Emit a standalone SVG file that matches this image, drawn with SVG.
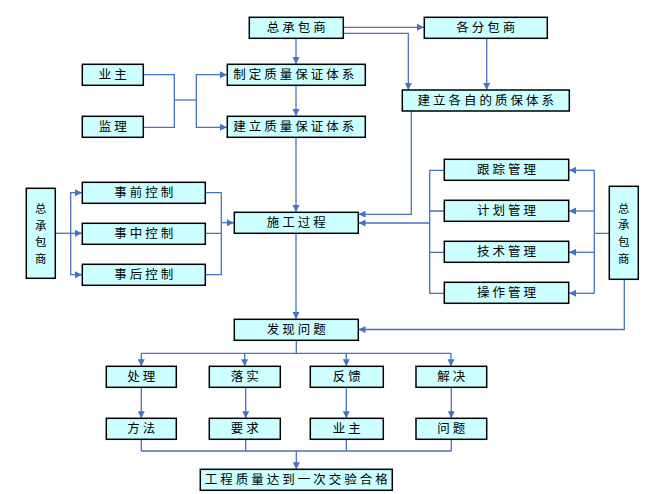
<svg xmlns="http://www.w3.org/2000/svg" width="646" height="494" viewBox="0 0 646 494">
<defs>
<marker id="ah" markerUnits="userSpaceOnUse" markerWidth="8" markerHeight="8" viewBox="0 0 8 8" refX="7" refY="4" orient="auto">
<path d="M0,0.5 L7,4 L0,7.5 Z" fill="#4472C4"/>
</marker>
<style>
.b{fill:#CCFFFF;stroke:#000;stroke-width:1.5}
.t{font-family:"Noto Sans CJK SC","Noto Sans",sans-serif;font-size:12.5px;fill:#000;text-anchor:middle;letter-spacing:3px}
.v{font-family:"Noto Sans CJK SC","Noto Sans",sans-serif;font-size:11.4px;fill:#000;text-anchor:middle}
.c{fill:none;stroke:#4472C4;stroke-width:1.3}
.a{marker-end:url(#ah)}
</style>
</defs>
<rect width="646" height="494" fill="#fff"/>
<g id="connectors">
<path class="c a" d="M296,38 V64"/>
<path class="c a" d="M296,85 V116"/>
<path class="c a" d="M296,137 V212"/>
<path class="c a" d="M343,27.3 H424"/>
<path class="c a" d="M343,33.3 H408.3 V90"/>
<path class="c a" d="M486.7,38 V90"/>
<path class="c a" d="M411.3,111 V214.3 H358.5"/>
<path class="c" d="M143,74.7 H174.3 V127.3 H143"/>
<path class="c" d="M174.3,100 H196.3"/>
<path class="c a" d="M196.3,100 V74.7 H227"/>
<path class="c a" d="M196.3,100 V127.3 H227"/>
<path class="c" d="M55.3,233.3 H70.7"/>
<path class="c a" d="M70.7,233.3 V192.7 H82"/>
<path class="c a" d="M70.7,233.3 H82"/>
<path class="c a" d="M70.7,233.3 V274.7 H82"/>
<path class="c" d="M205.3,192.7 H221.3 V274.7 H205.3 M205.3,233.3 H221.3"/>
<path class="c a" d="M221.3,222.7 H234"/>
<path class="c a" d="M296,233.3 V319"/>
<path class="c" d="M444.3,170.3 H429.7 V293.3 H444.3 M429.7,211 H444.3 M429.7,252.3 H444.3"/>
<path class="c a" d="M429.7,223 H358.5"/>
<path class="c" d="M609.3,233.3 H594.3 M594.3,170.3 V293.3"/>
<path class="c a" d="M594.3,170.3 H569"/>
<path class="c a" d="M594.3,211 H569"/>
<path class="c a" d="M594.3,252.3 H569"/>
<path class="c a" d="M594.3,293.3 H569"/>
<path class="c a" d="M624.3,279.3 V329.5 H358.5"/>
<path class="c" d="M296.3,340.3 V353.3 M141.3,353.3 H451"/>
<path class="c a" d="M141.3,353.3 V366.3"/>
<path class="c a" d="M244.7,353.3 V366.3"/>
<path class="c a" d="M346.3,353.3 V366.3"/>
<path class="c a" d="M451,353.3 V366.3"/>
<path class="c a" d="M141.3,387.3 V418.3"/>
<path class="c a" d="M245.7,387.3 V418.3"/>
<path class="c a" d="M346.3,387.3 V418.3"/>
<path class="c a" d="M451.3,387.3 V418.3"/>
<path class="c" d="M141.3,439.3 V451 M245.7,439.3 V451 M346.3,439.3 V451 M451.3,439.3 V451 M141.3,451 H451.3"/>
<path class="c a" d="M296.3,451 V469.3"/>
</g>
<g id="n_zcbs"><rect class="b" x="249.3" y="17.3" width="94" height="21"/><text class="t" x="297.8" y="32.3">总承包商</text></g>
<g id="n_gfbs"><rect class="b" x="424.3" y="17.3" width="123" height="21"/><text class="t" x="487.3" y="32.3">各分包商</text></g>
<g id="n_yz"><rect class="b" x="82.3" y="64.3" width="61" height="21"/><text class="t" x="114.3" y="79.3">业主</text></g>
<g id="n_jl"><rect class="b" x="82.3" y="116.3" width="61" height="21"/><text class="t" x="114.3" y="131.3">监理</text></g>
<g id="n_zd"><rect class="b" x="227.3" y="64.3" width="138" height="21"/><text class="t" x="295.3" y="79.3">制定质量保证体系</text></g>
<g id="n_jlzl"><rect class="b" x="227.3" y="116.3" width="138" height="21"/><text class="t" x="295.3" y="131.3">建立质量保证体系</text></g>
<g id="n_jlgz"><rect class="b" x="402.3" y="90" width="167" height="21"/><text class="t" x="487.3" y="105">建立各自的质保体系</text></g>
<g id="n_zcbs_l"><rect class="b" x="26.3" y="188.3" width="29" height="90"/>
<text class="v" x="40.8" y="213">总</text><text class="v" x="40.8" y="229.7">承</text><text class="v" x="40.8" y="246.4">包</text><text class="v" x="40.8" y="263.1">商</text></g>
<g id="n_sq"><rect class="b" x="82.3" y="182.3" width="123" height="21"/><text class="t" x="145.3" y="197.3">事前控制</text></g>
<g id="n_sz"><rect class="b" x="82.3" y="223.3" width="123" height="21"/><text class="t" x="145.3" y="238.3">事中控制</text></g>
<g id="n_sh"><rect class="b" x="82.3" y="264.3" width="123" height="21"/><text class="t" x="145.3" y="279.3">事后控制</text></g>
<g id="n_sg"><rect class="b" x="234.3" y="212.3" width="124" height="21"/><text class="t" x="297.8" y="227.3">施工过程</text></g>
<g id="n_gz"><rect class="b" x="444.3" y="159.3" width="124.4" height="21"/><text class="t" x="508" y="174.3">跟踪管理</text></g>
<g id="n_jh"><rect class="b" x="444.3" y="200.3" width="124.4" height="21"/><text class="t" x="508" y="215.3">计划管理</text></g>
<g id="n_js"><rect class="b" x="444.3" y="241.3" width="124.4" height="21"/><text class="t" x="508" y="256.3">技术管理</text></g>
<g id="n_cz"><rect class="b" x="444.3" y="282.3" width="124.4" height="21"/><text class="t" x="508" y="297.3">操作管理</text></g>
<g id="n_zcbs_r"><rect class="b" x="609.3" y="186.3" width="29" height="93"/>
<text class="v" x="623.8" y="212.5">总</text><text class="v" x="623.8" y="229.2">承</text><text class="v" x="623.8" y="245.9">包</text><text class="v" x="623.8" y="262.6">商</text></g>
<g id="n_fx"><rect class="b" x="234.3" y="319.3" width="124" height="21"/><text class="t" x="297.8" y="334.3">发现问题</text></g>
<g id="n_cl"><rect class="b" x="106.3" y="366.3" width="70" height="21"/><text class="t" x="142.8" y="381.3">处理</text></g>
<g id="n_ls"><rect class="b" x="209.3" y="366.3" width="71" height="21"/><text class="t" x="246.3" y="381.3">落实</text></g>
<g id="n_fk"><rect class="b" x="310.3" y="366.3" width="73" height="21"/><text class="t" x="348.3" y="381.3">反馈</text></g>
<g id="n_jj"><rect class="b" x="416" y="366.3" width="70.7" height="21"/><text class="t" x="452.8" y="381.3">解决</text></g>
<g id="n_ff"><rect class="b" x="106.3" y="418.3" width="70" height="21"/><text class="t" x="142.8" y="433.3">方法</text></g>
<g id="n_yq"><rect class="b" x="209.3" y="418.3" width="71" height="21"/><text class="t" x="246.3" y="433.3">要求</text></g>
<g id="n_yz2"><rect class="b" x="310.3" y="418.3" width="73" height="21"/><text class="t" x="348.3" y="433.3">业主</text></g>
<g id="n_wt"><rect class="b" x="416" y="418.3" width="70.7" height="21"/><text class="t" x="452.8" y="433.3">问题</text></g>
<g id="n_gc"><rect class="b" x="200.3" y="469.3" width="192" height="21"/><text class="t" x="297.8" y="484.3">工程质量达到一次交验合格</text></g>
</svg>
